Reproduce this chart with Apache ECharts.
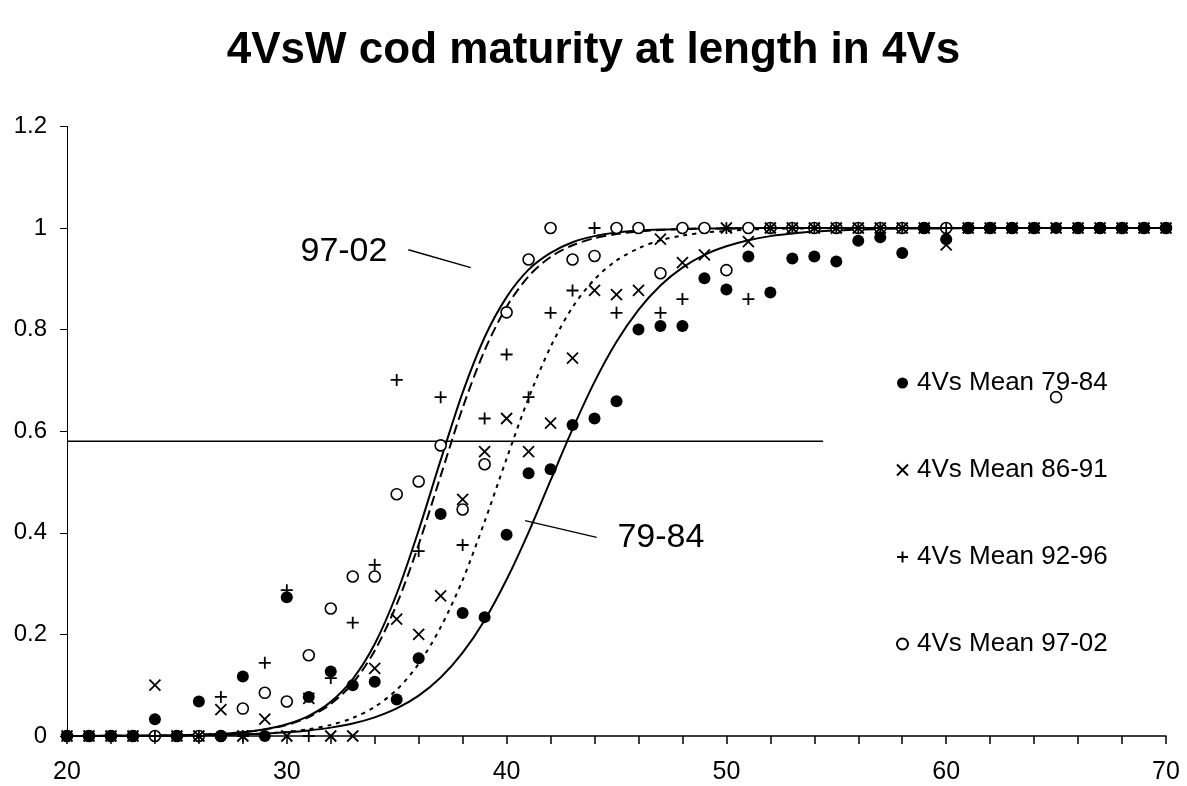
<!DOCTYPE html>
<html>
<head>
<meta charset="utf-8">
<script src="https://cdn.jsdelivr.net/npm/echarts@6/dist/echarts.min.js"></script>
<style>
  html, body { margin: 0; padding: 0; background: #fff; }
  #chart { width: 1187px; height: 786px; }
</style>
</head>
<body>
<div id="chart"></div>
<script>
// Fish length (cm), one entry per length class
const lengths = [
  20,21,22,23,24,25,26,27,28,29,
  30,31,32,33,34,35,36,37,38,39,
  40,41,42,43,44,45,46,47,48,49,
  50,51,52,53,54,55,56,57,58,59,
  60,61,62,63,64,65,66,67,68,69,
  70
];

// Observed proportion mature by length, per period (null = no sample)
const mean7984 = [
  0,0,0,0,0.033,0,0.068,0,0.117,0,
  0.273,0.077,0.127,0.100,0.107,0.072,0.153,0.437,0.242,0.234,
  0.396,0.517,0.525,0.612,0.625,0.659,0.800,0.807,0.807,0.901,
  0.879,0.944,0.873,0.940,0.944,0.934,0.975,0.982,0.951,1,
  0.978,1,1,1,1,1,1,1,1,1,
  1
];
const mean8691 = [
  0,0,0,0,0.100,0,0,0.052,0,0.033,
  0,0.074,0,0,0.133,0.230,0.200,0.276,0.466,0.560,
  0.625,0.560,0.616,0.744,0.877,0.869,0.877,0.978,0.932,0.947,
  1,0.973,1,1,1,1,1,1,1,1,
  0.967,1,1,1,1,1,1,1,1,1,
  1
];
const mean9296 = [
  0,0,0,0,0,0,0,0.077,0,0.144,
  0.287,0,0.114,0.223,0.337,0.701,0.364,0.667,0.376,0.625,
  0.751,0.667,0.833,0.877,1,0.833,null,0.833,0.860,null,
  1,0.860,1,1,1,1,1,1,1,1,
  1,1,1,1,1,1,1,1,1,1,
  1
];
const mean9702 = [
  0,0,0,0,0,0,0,0,0.054,0.085,
  0.068,0.159,0.251,0.314,0.314,0.476,0.501,0.572,0.446,0.535,
  0.834,0.938,1,0.938,0.945,1,1,0.911,1,1,
  0.917,1,1,1,1,1,1,1,1,1,
  1,1,1,1,1,0.667,1,1,1,1,
  1
];

// Fitted maturity ogives at the same lengths
const fit9702 = [
  0.0001,0.0002,0.0003,0.0005,0.0008,0.0014,0.0025,0.0044,0.0076,0.0133,
  0.023,0.0396,0.0672,0.112,0.181,0.280,0.405,0.543,0.676,0.785,
  0.864,0.918,0.951,0.972,0.984,0.991,0.995,0.997,0.998,0.999,
  0.999,1,1,1,1,1,1,1,1,1,
  1,1,1,1,1,1,1,1,1,1,
  1
];
const fit9296 = [
  0.0001,0.0002,0.0003,0.0005,0.0008,0.0014,0.0025,0.0043,0.0074,0.0127,
  0.0219,0.0373,0.063,0.104,0.168,0.259,0.377,0.512,0.646,0.759,
  0.845,0.905,0.943,0.966,0.980,0.988,0.993,0.996,0.998,0.999,
  0.999,1,1,1,1,1,1,1,1,1,
  1,1,1,1,1,1,1,1,1,1,
  1
];
const fit8691 = [
  0.0001,0.0001,0.0001,0.0002,0.0004,0.0007,0.0011,0.0018,0.003,0.0049,
  0.0081,0.0133,0.0219,0.0356,0.0573,0.0909,0.142,0.214,0.307,0.422,
  0.546,0.665,0.766,0.844,0.899,0.936,0.960,0.976,0.985,0.991,
  0.994,0.997,0.998,0.999,0.999,1,1,1,1,1,
  1,1,1,1,1,1,1,1,1,1,
  1
];
const fit7984 = [
  0.0001,0.0002,0.0003,0.0004,0.0006,0.0009,0.0014,0.0022,0.0032,0.0049,
  0.0073,0.011,0.0165,0.0246,0.0367,0.0542,0.0794,0.115,0.164,0.228,
  0.308,0.401,0.503,0.604,0.697,0.776,0.839,0.887,0.922,0.947,
  0.964,0.976,0.984,0.989,0.993,0.995,0.997,0.998,0.999,0.999,
  0.999,1,1,1,1,1,1,1,1,1,
  1
];

// Reference level and its extent along the length axis
const refLevel = 0.58;
const refExtent = [20, 54.4];

// Curve labels with their leader lines
const curveNotes = [
  { text: '97-02', at: [32.6, 0.953], leader: [[35.53, 0.957], [38.37, 0.922]] },
  { text: '79-84', at: [47.02, 0.39], leader: [[40.84, 0.424], [44.1, 0.391]] }
];

const pairs = ys => lengths.map((x, i) => [x, ys[i]]).filter(p => p[1] !== null);

const crossPath = 'path://M0,0L10,10M10,0L0,10';
const plusPath = 'path://M5,0L5,10M0,5L10,5';

const FONT = 'Liberation Sans, Arial, sans-serif';
const lineStroke = { color: '#000', width: 2 };

const option = {
  animation: false,
  backgroundColor: '#fff',
  title: {
    text: '4VsW cod maturity at length in 4Vs',
    left: 'center',
    top: 24,
    textStyle: { fontFamily: FONT, fontWeight: 'bold', fontSize: 44, color: '#000' }
  },
  grid: { left: 67, right: 21, top: 126.4, bottom: 50, containLabel: false },
  legend: {
    orient: 'vertical',
    left: 891,
    top: 365,
    itemWidth: 11,
    itemHeight: 11,
    itemGap: 61,
    selectedMode: false,
    data: ['4Vs Mean 79-84', '4Vs Mean 86-91', '4Vs Mean 92-96', '4Vs Mean 97-02'],
    textStyle: { fontFamily: FONT, fontSize: 26, color: '#000', lineHeight: 26, padding: [0, 0, 0, 4] }
  },
  xAxis: {
    type: 'value',
    min: 20,
    max: 70,
    interval: 2,
    splitLine: { show: false },
    axisLine: { lineStyle: { color: '#000', width: 1.5 } },
    axisTick: { length: 8, lineStyle: { color: '#000', width: 1.5 } },
    axisLabel: {
      margin: 24,
      fontFamily: FONT,
      fontSize: 25,
      color: '#000',
      formatter: v => (v % 10 === 0 ? String(v) : '')
    }
  },
  yAxis: {
    type: 'value',
    min: 0,
    max: 1.2,
    interval: 0.2,
    splitLine: { show: false },
    axisLine: { show: true, lineStyle: { color: '#000', width: 1 } },
    axisTick: { show: true, length: 7, lineStyle: { color: '#000', width: 1 } },
    axisLabel: {
      margin: 20,
      fontFamily: FONT,
      fontSize: 24,
      color: '#000',
      formatter: v => String(Math.round(v * 10) / 10)
    }
  },
  series: [
    {
      name: 'fit 79-84', type: 'line', data: pairs(fit7984), smooth: 0.3,
      showSymbol: false, silent: true, lineStyle: lineStroke, z: 2
    },
    {
      name: 'fit 86-91', type: 'line', data: pairs(fit8691), smooth: 0.3,
      showSymbol: false, silent: true, lineStyle: { color: '#000', width: 2, type: [4, 5] }, z: 2
    },
    {
      name: 'fit 92-96', type: 'line', data: pairs(fit9296), smooth: 0.3,
      showSymbol: false, silent: true, lineStyle: { color: '#000', width: 2, type: [10, 5] }, z: 2
    },
    {
      name: 'fit 97-02', type: 'line', data: pairs(fit9702), smooth: 0.3,
      showSymbol: false, silent: true, lineStyle: lineStroke, z: 2
    },
    {
      name: 'reference', type: 'line', silent: true, showSymbol: false,
      data: refExtent.map(x => [x, refLevel]),
      lineStyle: { color: '#000', width: 1.5 }, z: 2
    },
    ...curveNotes.map(n => ({
      name: 'leader ' + n.text, type: 'line', silent: true, showSymbol: false,
      data: n.leader, lineStyle: { color: '#000', width: 1.5 }, z: 2
    })),
    {
      name: 'notes', type: 'scatter', silent: true, symbolSize: 0,
      itemStyle: { opacity: 1 },
      data: curveNotes.map(n => ({ value: n.at, name: n.text })),
      label: {
        show: true, position: 'inside', formatter: p => p.name,
        fontFamily: FONT, fontSize: 34, color: '#000'
      }
    },
    {
      name: '4Vs Mean 79-84', type: 'scatter', data: pairs(mean7984),
      symbol: 'circle', symbolSize: 12, itemStyle: { color: '#000', opacity: 1 }, z: 4
    },
    {
      name: '4Vs Mean 86-91', type: 'scatter', data: pairs(mean8691),
      symbol: crossPath, symbolSize: 11,
      itemStyle: { color: 'rgba(0,0,0,0)', borderColor: '#000', borderWidth: 1.8, opacity: 1 }, z: 5
    },
    {
      name: '4Vs Mean 92-96', type: 'scatter', data: pairs(mean9296),
      symbol: plusPath, symbolSize: 12,
      itemStyle: { color: 'rgba(0,0,0,0)', borderColor: '#000', borderWidth: 1.8, opacity: 1 }, z: 5
    },
    {
      name: '4Vs Mean 97-02', type: 'scatter', data: pairs(mean9702),
      symbol: 'circle', symbolSize: 11,
      itemStyle: { color: '#fff', borderColor: '#000', borderWidth: 1.6, opacity: 1 }, z: 3
    }
  ]
};

const chart = echarts.init(document.getElementById('chart'), null, { renderer: 'canvas' });
chart.setOption(option);
</script>
</body>
</html>
